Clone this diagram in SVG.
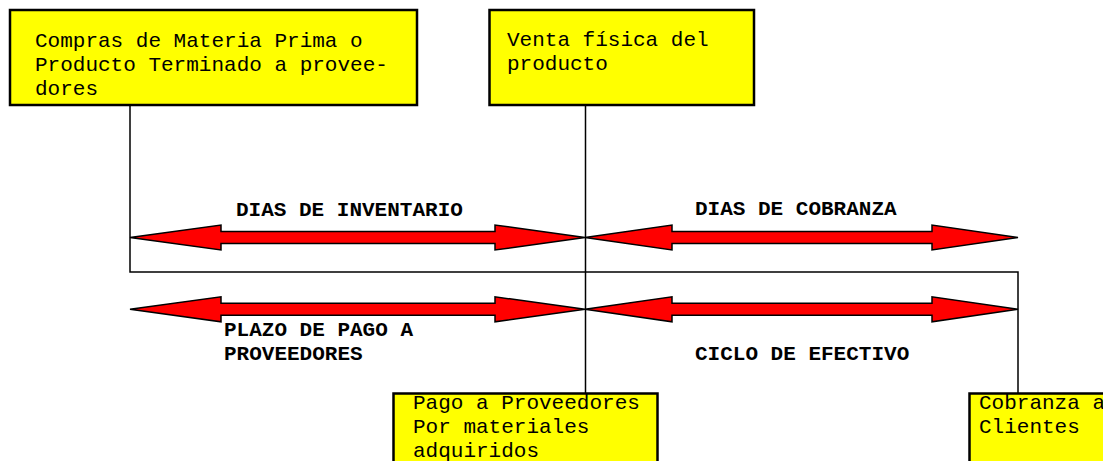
<svg xmlns="http://www.w3.org/2000/svg" width="1103" height="461" viewBox="0 0 1103 461">
<defs>
<style>
.box{fill:#ffff00;stroke:#000;stroke-width:2.5}
.t{font-family:"Liberation Mono","Courier New",monospace;font-size:21px;fill:#000}
.b{font-family:"Liberation Mono","Courier New",monospace;font-size:21px;font-weight:bold;fill:#000}
.ln{fill:none;stroke:#000;stroke-width:1.5}
.arr{fill:#ff0000;stroke:#000;stroke-width:1.5;stroke-linejoin:miter}
</style>
</defs>
<rect width="1103" height="461" fill="#fff"/>
<g id="connectors">
<polyline class="ln" points="130,105 130,272 1018,272 1018,393"/>
<line class="ln" x1="585.5" y1="105" x2="585.5" y2="393"/>
</g>
<g id="arrows">
<g id="arrow-dias-inventario">
<polygon class="arr" points="130,237.5 221,225 221,231.5 495,231.5 495,225 585,237.5 495,250 495,243.5 221,243.5 221,250"/>
<text class="b" x="236" y="215.5">DIAS DE INVENTARIO</text>
</g>
<g id="arrow-dias-cobranza">
<polygon class="arr" points="585,237.5 672,225 672,231.5 932,231.5 932,225 1018,237.5 932,250 932,243.5 672,243.5 672,250"/>
<text class="b" x="695" y="215">DIAS DE COBRANZA</text>
</g>
<g id="arrow-plazo-pago">
<polygon class="arr" points="130,309.3 221,296.8 221,303.3 495,303.3 495,296.8 585,309.3 495,321.8 495,315.3 221,315.3 221,321.8"/>
<text class="b" x="224" y="335.5">PLAZO DE PAGO A</text>
<text class="b" x="224" y="360">PROVEEDORES</text>
</g>
<g id="arrow-ciclo-efectivo">
<polygon class="arr" points="585,309.3 672,296.8 672,303.3 932,303.3 932,296.8 1018,309.3 932,321.8 932,315.3 672,315.3 672,321.8"/>
<text class="b" x="695" y="359.5">CICLO DE EFECTIVO</text>
</g>
</g>
<g id="node-compras">
<rect class="box" x="10" y="10" width="407" height="95"/>
<text class="t" x="35" y="46.5">Compras de Materia Prima o</text>
<text class="t" x="35" y="70.5">Producto Terminado a provee-</text>
<text class="t" x="35" y="94.5">dores</text>
</g>
<g id="node-venta">
<rect class="box" x="489.5" y="10" width="264.5" height="95"/>
<text class="t" x="507" y="46">Venta física del</text>
<text class="t" x="507" y="70">producto</text>
</g>
<g id="node-pago">
<rect class="box" x="393.5" y="393.5" width="264" height="80"/>
<text class="t" x="413" y="408.5">Pago a Proveedores</text>
<text class="t" x="413" y="432.5">Por materiales</text>
<text class="t" x="413" y="456.5">adquiridos</text>
</g>
<g id="node-cobranza">
<rect class="box" x="969.5" y="393.5" width="150" height="80"/>
<text class="t" x="979" y="408.5">Cobranza a</text>
<text class="t" x="979" y="432.5">Clientes</text>
</g>
</svg>
